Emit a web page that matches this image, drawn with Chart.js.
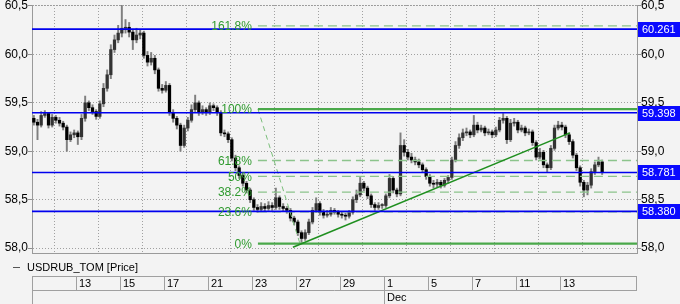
<!DOCTYPE html>
<html><head><meta charset="utf-8">
<script src="https://cdn.jsdelivr.net/npm/chart.js@4/dist/chart.umd.min.js"></script>
<style>html,body{margin:0;padding:0;background:#f3f3f3;}canvas{display:block;}</style>
</head><body>
<canvas id="c" width="680" height="304"></canvas>
<script>
// ---------- data ----------
const seriesName = 'USDRUB_TOM [Price]';
const xTickDays = [0, 2, 4, 6, 8, 10, 12, 14, 16, 18, 20, 22, 24];
const dayTickLabels = ['', '13', '15', '17', '21', '23', '27', '29', '1', '5', '7', '11', '13'];
const monthTickIndex = 8;
const monthLabel = 'Dec';
const yTickValues = [58.0, 58.5, 59.0, 59.5, 60.0, 60.5];
const candlesPerDay = 6;

const opens = [59.34,59.30,59.27,59.37,59.39,59.27,59.35,59.32,59.29,59.25,
 59.12,59.17,59.19,59.15,59.34,59.50,59.45,59.41,59.36,59.49,
 59.65,59.79,60.05,60.15,60.22,60.27,60.28,60.23,60.15,60.20,
 60.22,59.99,59.92,59.96,59.84,59.65,59.63,59.68,59.40,59.34,
 59.27,59.06,59.24,59.32,59.43,59.50,59.40,59.43,59.40,59.47,
 59.45,59.40,59.19,59.18,59.12,58.93,58.83,58.75,58.67,58.60,
 58.50,58.42,58.40,58.43,58.41,58.44,58.42,58.52,58.43,58.41,
 58.39,58.31,58.27,58.16,58.10,58.16,58.27,58.39,58.46,58.37,
 58.34,58.35,58.39,58.37,58.35,58.34,58.33,58.37,58.50,58.55,
 58.67,58.62,58.54,58.45,58.42,58.44,58.44,58.54,58.72,58.60,
 58.56,59.06,58.99,58.94,58.91,58.89,58.86,58.81,58.74,58.67,
 58.66,58.68,58.65,58.70,58.73,58.91,59.06,59.14,59.19,59.20,
 59.17,59.27,59.22,59.24,59.19,59.20,59.17,59.22,59.32,59.34,
 59.12,59.29,59.30,59.22,59.24,59.19,59.20,59.09,58.94,58.99,
 58.86,58.83,59.03,59.24,59.27,59.25,59.17,59.10,58.96,58.83,
 58.68,58.60,58.65,58.79,58.86,58.89];
const highs = [59.37,59.33,59.41,59.42,59.40,59.38,59.37,59.35,59.31,59.27,
 59.20,59.22,59.21,59.38,59.57,59.52,59.48,59.43,59.52,59.70,
 59.84,60.10,60.20,60.30,60.51,60.36,60.33,60.26,60.27,60.25,
 60.24,60.03,60.02,59.99,59.86,59.69,59.72,59.70,59.43,59.36,
 59.29,59.27,59.35,59.48,59.58,59.52,59.47,59.45,59.50,59.49,
 59.47,59.42,59.22,59.20,59.14,58.96,58.85,58.77,58.69,58.62,
 58.52,58.45,58.47,58.46,58.48,58.47,58.62,58.54,58.46,58.43,
 58.41,58.33,58.29,58.18,58.19,58.30,58.42,58.52,58.48,58.40,
 58.39,58.42,58.41,58.39,58.37,58.36,58.39,58.53,58.60,58.73,
 58.69,58.64,58.56,58.47,58.47,58.46,58.56,58.76,58.74,58.62,
 59.19,59.12,59.02,58.98,58.94,58.92,58.88,58.83,58.76,58.70,
 58.71,58.70,58.72,58.75,58.94,59.10,59.18,59.23,59.24,59.22,
 59.37,59.30,59.27,59.26,59.23,59.22,59.25,59.35,59.39,59.36,
 59.33,59.34,59.32,59.27,59.26,59.23,59.22,59.11,59.03,59.01,
 58.88,59.06,59.27,59.31,59.30,59.27,59.19,59.12,58.98,58.85,
 58.70,58.68,58.82,58.89,58.94,58.91];
const lows = [59.27,59.12,59.25,59.35,59.24,59.25,59.29,59.26,59.22,59.00,
 59.10,59.14,59.07,59.12,59.31,59.42,59.38,59.33,59.34,59.46,
 59.62,59.75,60.02,60.12,60.18,60.22,60.18,60.05,60.12,60.16,
 59.96,59.88,59.89,59.80,59.62,59.60,59.61,59.37,59.30,59.23,
 59.00,59.04,59.21,59.30,59.41,59.37,59.38,59.37,59.38,59.42,
 59.37,59.16,59.15,59.09,58.90,58.80,58.72,58.64,58.57,58.47,
 58.39,58.37,58.38,58.38,58.39,58.39,58.40,58.40,58.38,58.36,
 58.28,58.24,58.13,58.06,58.08,58.14,58.25,58.37,58.34,58.31,
 58.32,58.33,58.35,58.32,58.31,58.29,58.31,58.35,58.47,58.53,
 58.59,58.51,58.42,58.39,58.40,58.41,58.42,58.52,58.57,58.53,
 58.54,58.95,58.91,58.88,58.86,58.83,58.78,58.71,58.64,58.62,
 58.63,58.62,58.63,58.67,58.71,58.89,59.03,59.11,59.16,59.14,
 59.15,59.19,59.20,59.16,59.17,59.14,59.15,59.20,59.29,59.08,
 59.10,59.26,59.19,59.20,59.16,59.17,59.06,58.91,58.92,58.83,
 58.79,58.81,59.01,59.22,59.22,59.14,59.07,58.93,58.80,58.64,
 58.53,58.55,58.62,58.76,58.84,58.76];
const closes = [59.30,59.27,59.37,59.39,59.27,59.35,59.32,59.29,59.25,59.12,
 59.17,59.19,59.15,59.34,59.50,59.45,59.41,59.36,59.49,59.65,
 59.79,60.05,60.15,60.22,60.27,60.28,60.23,60.15,60.20,60.22,
 59.99,59.92,59.96,59.84,59.65,59.63,59.68,59.40,59.34,59.27,
 59.06,59.24,59.32,59.43,59.50,59.40,59.43,59.40,59.47,59.45,
 59.40,59.19,59.18,59.12,58.93,58.83,58.75,58.67,58.60,58.50,
 58.42,58.40,58.43,58.41,58.44,58.42,58.52,58.43,58.41,58.39,
 58.31,58.27,58.16,58.10,58.16,58.27,58.39,58.46,58.37,58.34,
 58.35,58.39,58.37,58.35,58.34,58.33,58.37,58.50,58.55,58.67,
 58.62,58.54,58.45,58.42,58.44,58.44,58.54,58.72,58.60,58.56,
 59.06,58.99,58.94,58.91,58.89,58.86,58.81,58.74,58.67,58.66,
 58.68,58.65,58.70,58.73,58.91,59.06,59.14,59.19,59.20,59.17,
 59.27,59.22,59.24,59.19,59.20,59.17,59.22,59.32,59.34,59.12,
 59.29,59.30,59.22,59.24,59.19,59.20,59.09,58.94,58.99,58.86,
 58.83,59.03,59.24,59.27,59.25,59.17,59.10,58.96,58.83,58.68,
 58.60,58.65,58.79,58.86,58.89,58.78];

const keyLevels = [60.261, 59.398, 58.781, 58.380];
const fibNames = ['0%', '23.6%', '38.2%', '50%', '61.8%', '100%', '161.8%'];
const fibPrices = [58.047, 58.375, 58.578, 58.742, 58.905, 59.436, 60.294];
const fibStartDay = 10.27;
const trendDays = [11.86, 24.45];
const trendPrices = [58.01, 59.19];
const swingDays = [10.27, 12.18];
const swingPrices = [59.436, 58.047];

// ---------- chart ----------
const X_MAX = 27.5;
const FONT = 'Arial, "Liberation Sans", sans-serif';
const candleX = closes.map((_, i) => (i + 0.5) / candlesPerDay);

const datasets = [];
keyLevels.forEach(v => datasets.push({
  type: 'line', data: [{x: 0, y: v}, {x: X_MAX, y: v}],
  borderColor: '#0000ee', borderWidth: 1.6, pointRadius: 0, order: 0
}));
fibPrices.forEach((v, i) => {
  const solid = fibNames[i] === '0%' || fibNames[i] === '100%';
  datasets.push({
    type: 'line', data: [{x: fibStartDay, y: v}, {x: X_MAX, y: v}],
    borderColor: solid ? '#4aa84a' : '#8cc48c', borderWidth: solid ? 2.2 : 1.3,
    borderDash: solid ? [] : [9, 5], pointRadius: 0, order: 1
  });
});
datasets.push({
  type: 'line', data: trendDays.map((d, i) => ({x: d, y: trendPrices[i]})),
  borderColor: '#1f8f1f', borderWidth: 1.6, pointRadius: 0, order: 0
});
datasets.push({
  type: 'line', data: swingDays.map((d, i) => ({x: d, y: swingPrices[i]})),
  borderColor: '#7cbf7c', borderWidth: 1, borderDash: [5, 4], pointRadius: 0, order: 1
});
datasets.push({
  type: 'bar', data: closes.map((c, i) => ({x: candleX[i], y: [opens[i], c]})),
  backgroundColor: closes.map((c, i) => c >= opens[i] ? '#333333' : '#000000'),
  barThickness: 2.6, grouped: false, minBarLength: 1, order: 3
});
datasets.push({
  type: 'bar', data: closes.map((c, i) => ({x: candleX[i], y: [lows[i], highs[i]]})),
  backgroundColor: '#7f7f7f', barThickness: 1.3, grouped: false, order: 4
});

const fmt = v => v.toFixed(1).replace('.', ',');
const yTicksFn = s => { s.ticks = yTickValues.map(v => ({value: v})); };

const decor = {
  id: 'decor',
  beforeDraw(chart) {
    const c = chart.ctx;
    c.save(); c.fillStyle = '#f3f3f3'; c.fillRect(0, 0, chart.width, chart.height); c.restore();
  },
  afterDraw(chart) {
    const c = chart.ctx, a = chart.chartArea, xs = chart.scales.x, ys = chart.scales.y;
    c.save();
    c.strokeStyle = '#9a9a9a'; c.lineWidth = 1; c.setLineDash([1, 2]);
    c.beginPath(); c.moveTo(a.left, a.top + 0.5); c.lineTo(a.right, a.top + 0.5); c.stroke();
    c.setLineDash([]);
    c.font = '12px ' + FONT; c.fillStyle = '#2f9a2f'; c.textAlign = 'right'; c.textBaseline = 'middle';
    const fx = xs.getPixelForValue(fibStartDay) - 6;
    fibPrices.forEach((v, i) => c.fillText(fibNames[i], fx, ys.getPixelForValue(v) + 1));
    c.font = '11px ' + FONT; c.textAlign = 'left';
    keyLevels.forEach(v => {
      const y = ys.getPixelForValue(v);
      c.fillStyle = '#0a0aff'; c.fillRect(a.right + 1, Math.round(y) - 7, 44, 15);
      c.fillStyle = '#ffffff'; c.fillText(v.toFixed(3), a.right + 5, Math.round(y) + 1);
    });
    c.strokeStyle = '#555'; c.lineWidth = 1;
    c.beginPath(); c.moveTo(13, 267.5); c.lineTo(20, 267.5); c.stroke();
    c.fillStyle = '#000'; c.font = '11px ' + FONT; c.textBaseline = 'middle';
    c.fillText(seriesName, 27, 268);
    const top = 276.5, mid = 290.5, bot = 304;
    c.strokeStyle = '#a0a0a0';
    c.beginPath();
    c.moveTo(a.left, top); c.lineTo(a.right, top);
    c.moveTo(a.left, mid); c.lineTo(a.right, mid);
    c.moveTo(a.left + 0.5, top); c.lineTo(a.left + 0.5, bot);
    c.moveTo(a.right - 0.5, top); c.lineTo(a.right - 0.5, mid);
    xTickDays.forEach((d, i) => {
      const px = Math.round(xs.getPixelForValue(d)) + 0.5;
      c.moveTo(px, top); c.lineTo(px, i === monthTickIndex ? bot : mid);
    });
    c.stroke();
    xTickDays.forEach((d, i) => {
      const px = Math.round(xs.getPixelForValue(d));
      c.fillText(dayTickLabels[i], px + 3, 284);
    });
    c.fillText(monthLabel, Math.round(xs.getPixelForValue(xTickDays[monthTickIndex])) + 3, 298);
    c.restore();
  }
};

new Chart(document.getElementById('c'), {
  type: 'bar',
  data: { datasets },
  options: {
    responsive: false, animation: false, devicePixelRatio: 1,
    layout: { padding: { top: 5, left: 0, right: 0, bottom: 0 } },
    plugins: { legend: { display: false }, tooltip: { enabled: false } },
    scales: {
      x: {
        type: 'linear', min: 0, max: X_MAX, offset: false, position: 'bottom',
        afterBuildTicks: s => { s.ticks = xTickDays.map(v => ({value: v})); },
        afterFit: s => { s.height = 51; },
        ticks: { display: false },
        grid: { color: '#a0a0a0', drawTicks: false, lineWidth: 1 },
        border: { display: true, color: '#9a9a9a', dash: [1, 2] }
      },
      y: {
        position: 'left', min: 57.95, max: 60.51,
        afterBuildTicks: yTicksFn,
        afterFit: s => { s.width = 32; },
        ticks: { padding: 0, color: '#000', font: { family: FONT, size: 12, lineHeight: 0.8 }, callback: fmt },
        grid: { color: '#a0a0a0', tickLength: 4, tickColor: '#909090', tickBorderDash: [] },
        border: { display: true, color: '#9a9a9a', dash: [1, 2] }
      },
      y2: {
        position: 'right', min: 57.95, max: 60.51,
        afterBuildTicks: yTicksFn,
        afterFit: s => { s.width = 43; },
        ticks: { padding: 0, color: '#000', font: { family: FONT, size: 12, lineHeight: 0.8 }, callback: fmt },
        grid: { drawOnChartArea: false, tickLength: 4, tickColor: '#909090' },
        border: { display: true, color: '#9a9a9a' }
      }
    }
  },
  plugins: [decor]
});
</script>
</body></html>
